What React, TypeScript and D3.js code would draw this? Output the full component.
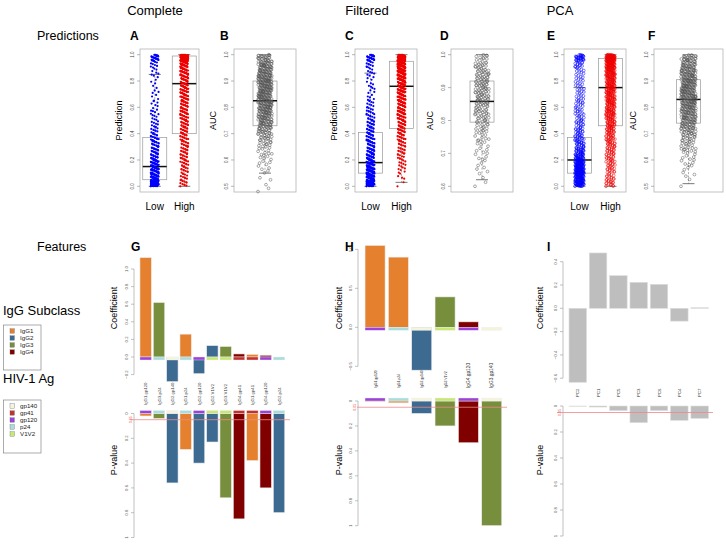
import React from 'react';
import * as d3 from 'd3';

const FONT = "'Liberation Sans', Arial, Helvetica, sans-serif";

// ---- Predictions (A, C, E): number of points in each 0.05 bin from 0 to 1 ----
const PRED_START = 0;
const PRED_STEP = 0.05;
const completeLow = [85, 45, 40, 35, 25, 20, 18, 14, 10, 8, 7, 6, 5, 4, 4, 3, 4, 5, 8, 30];
const completeHigh = [12, 10, 12, 14, 15, 15, 16, 16, 18, 20, 22, 22, 24, 25, 26, 28, 30, 32, 38, 90];
const filteredLow = [70, 55, 50, 40, 32, 26, 22, 20, 18, 15, 12, 10, 8, 6, 5, 5, 5, 6, 10, 30];
const filteredHigh = [2, 4, 6, 8, 10, 12, 14, 16, 20, 22, 25, 28, 30, 32, 36, 40, 45, 50, 55, 80];
const pcaLow = [55, 50, 55, 50, 35, 25, 20, 16, 14, 12, 10, 10, 9, 8, 8, 7, 8, 8, 12, 30];
const pcaHigh = [15, 12, 12, 14, 15, 16, 18, 20, 22, 25, 28, 30, 30, 32, 34, 36, 38, 42, 50, 80];

// box stats: lower whisker, Q1, median, Q3, upper whisker
const completeLowBox = [0, 0.05, 0.15, 0.37, 0.85];
const completeHighBox = [0, 0.4, 0.78, 0.99, 1];
const filteredLowBox = [0, 0.1, 0.18, 0.41, 0.86];
const filteredHighBox = [0.03, 0.44, 0.76, 0.95, 1];
const pcaLowBox = [0, 0.1, 0.2, 0.37, 0.75];
const pcaHighBox = [0, 0.46, 0.75, 0.97, 1];

// ---- AUC (B, D, F): number of points in each 0.02 bin ----
const AUC_STEP = 0.02;
const completeAucStart = 0.48;
const completeAuc = [2, 1, 2, 2, 3, 4, 5, 6, 8, 10, 14, 18, 22, 26, 28, 30, 32, 34, 34, 34, 34, 32, 30, 28, 24, 20];
const filteredAucStart = 0.6;
const filteredAuc = [2, 2, 3, 3, 4, 5, 6, 7, 9, 11, 13, 15, 17, 18, 18, 17, 16, 14, 12, 10];
const pcaAucStart = 0.5;
const pcaAuc = [1, 2, 2, 3, 4, 5, 7, 9, 11, 14, 18, 22, 26, 28, 30, 32, 34, 34, 34, 32, 30, 28, 26, 22, 20];
const completeAucBox = [0.55, 0.73, 0.825, 0.9, 1];
const filteredAucBox = [0.62, 0.795, 0.858, 0.92, 1];
const pcaAucBox = [0.51, 0.74, 0.83, 0.905, 1];

// ---- Features ----
const subclasses = ['IgG1', 'IgG2', 'IgG3', 'IgG4'];
const subclassColors = ['#e5812e', '#3d6a91', '#778f3d', '#800000'];
const antigens = ['gp140', 'gp41', 'gp120', 'p24', 'V1V2'];
const antigenColors = ['#f6f3dd', '#c4302b', '#9b42d8', '#a9dcdc', '#c7e874'];

const gLabels = ['IgG1.gp120', 'IgG3.p24', 'IgG2.gp140', 'IgG1.p24', 'IgG2.gp120', 'IgG2.V1V2',
  'IgG3.V1V2', 'IgG4.gp41', 'IgG1.gp41', 'IgG4.gp120', 'IgG2.p24'];
const gCoef = [1.13, 0.62, -0.28, 0.26, -0.19, 0.13, 0.12, 0.035, 0.03, 0.02, 0.0];
const gPval = [0.02, 0.04, 0.56, 0.29, 0.4, 0.23, 0.68, 0.85, 0.38, 0.6, 0.8];

const hLabels = ['IgG1.gp120', 'IgG1.p24', 'IgG2.gp140', 'IgG3.V1V2', 'IgG4.gp120', 'IgG3.gp140'];
const hCoef = [1.05, 0.9, -0.55, 0.39, 0.07, 0.0];
const hPval = [0.005, 0.015, 0.1, 0.2, 0.335, 1.0];

const iLabels = ['PC2', 'PC1', 'PC5', 'PC3', 'PC6', 'PC4', 'PC7'];
const iCoef = [-0.635, 0.475, 0.28, 0.223, 0.206, -0.11, 0.005];
const iPval = [0.002, 0.008, 0.035, 0.128, 0.035, 0.11, 0.095];

const gCoefTicks = [-0.2, 0, 0.2, 0.4, 0.6, 0.8, 1.0];
const hCoefTicks = [-0.5, 0, 0.5, 1.0];
const iCoefTicks = [-0.6, -0.4, -0.2, 0, 0.2, 0.4];
const pTicks = [0, 0.2, 0.4, 0.6, 0.8, 1];
const P_CUTOFF = 0.05;

const frac = (v) => v - Math.floor(v);

// place the binned points inside their bin, with a fixed spread sideways
const spreadBins = (counts, start, step) => {
  const pts = [];
  counts.forEach((c, i) => {
    for (let j = 0; j < c; j += 1) {
      pts.push({
        v: Math.min(1, start + step * (i + frac(j * 0.6180339 + i * 0.31))),
        k: frac(j * 0.7548777 + i * 0.5698403) - 0.5,
      });
    }
  });
  return pts;
};

const FRAME_TOP = 49;
const FRAME_BOTTOM = 192;

const StripPanel = ({ x0, x1, lo, ylabel, groups, spread, boxW, labels }) => {
  const y = d3.scaleLinear().domain([lo, 1]).range([186.3, 54.7]);
  const x = groups.length > 1
    ? d3.scaleLinear().domain([0.5, groups.length + 0.5]).range([x0, x1])
    : () => (x0 + x1) / 2;
  const fmt = d3.format('.1f');
  return (
    <g>
      <rect x={x0} y={FRAME_TOP} width={x1 - x0} height={FRAME_BOTTOM - FRAME_TOP} fill="none" stroke="#b5b5b5" strokeWidth={0.8} />
      {y.ticks(5).map((t) => (
        <g key={t}>
          <line x1={x0 - 3} x2={x0} y1={y(t)} y2={y(t)} stroke="#888" strokeWidth={0.6} />
          <text transform={`translate(${x0 - 6},${y(t)}) rotate(-90)`} textAnchor="middle" fontSize={4.5} fill="#444">{fmt(t)}</text>
        </g>
      ))}
      <text transform={`translate(${x0 - 18},${(FRAME_TOP + FRAME_BOTTOM) / 2}) rotate(-90)`} textAnchor="middle" fontSize={9}>{ylabel}</text>
      {groups.map((g, gi) => {
        const cx = x(gi + 1);
        const [wl, q1, med, q3, wh] = g.box;
        const pts = spreadBins(g.counts, g.start, g.step);
        return (
          <g key={gi}>
            <line x1={cx} x2={cx} y1={y(q3)} y2={y(wh)} stroke="#777" strokeWidth={0.6} strokeDasharray="2,1.5" />
            <line x1={cx} x2={cx} y1={y(q1)} y2={y(wl)} stroke="#777" strokeWidth={0.6} strokeDasharray="2,1.5" />
            <line x1={cx - 6} x2={cx + 6} y1={y(wh)} y2={y(wh)} stroke="#555" strokeWidth={0.8} />
            <line x1={cx - 6} x2={cx + 6} y1={y(wl)} y2={y(wl)} stroke="#555" strokeWidth={0.8} />
            <rect x={cx - boxW / 2} y={y(q3)} width={boxW} height={y(q1) - y(q3)} fill="none" stroke="#999" strokeWidth={0.7} />
            <line x1={cx - boxW / 2} x2={cx + boxW / 2} y1={y(med)} y2={y(med)} stroke="#111" strokeWidth={1.5} />
            {pts.map((p, i) => (g.open ? (
              <circle key={i} cx={cx + p.k * 2 * spread} cy={y(p.v)} r={1.4} fill="none" stroke={g.color} strokeWidth={0.5} />
            ) : (
              <circle key={i} cx={cx + p.k * 2 * spread} cy={y(p.v)} r={1.1} fill={g.color} />
            )))}
            {labels && (
              <text x={cx} y={210} textAnchor="middle" fontSize={10}>{labels[gi]}</text>
            )}
          </g>
        );
      })}
    </g>
  );
};

const colorOf = (label) => {
  const [sub, ag] = label.split('.');
  return [subclassColors[subclasses.indexOf(sub)], antigenColors[antigens.indexOf(ag)]];
};

const BarPanel = ({
  labels, coef, pval, x0, x1, axisX, coefZero, coefUnit, coefTicks, pZero, pUnit,
  labelBottom, labelSize, gray, lineX0, lineX1, titleX,
}) => {
  const x = d3.scaleBand().domain(labels).range([x0, x1]).paddingInner(0.14).paddingOuter(0.07);
  const yc = d3.scaleLinear().domain([0, 1]).range([coefZero, coefZero - coefUnit]);
  const yp = d3.scaleLinear().domain([0, 1]).range([pZero, pZero + pUnit]);
  const fmtC = d3.format('.1f');
  const fmtP = d3.format('~g');
  const bw = x.bandwidth();
  return (
    <g>
      <line x1={axisX} x2={axisX} y1={yc(coefTicks[0])} y2={yc(coefTicks[coefTicks.length - 1])} stroke="#999" strokeWidth={0.6} />
      {coefTicks.map((t) => (
        <g key={t}>
          <line x1={axisX - 3} x2={axisX} y1={yc(t)} y2={yc(t)} stroke="#999" strokeWidth={0.6} />
          <text transform={`translate(${axisX - 6},${yc(t)}) rotate(-90)`} textAnchor="middle" fontSize={4.3} fill="#555">{fmtC(t)}</text>
        </g>
      ))}
      <line x1={axisX} x2={axisX} y1={yp(0)} y2={yp(1)} stroke="#999" strokeWidth={0.6} />
      {pTicks.map((t) => (
        <g key={t}>
          <line x1={axisX - 3} x2={axisX} y1={yp(t)} y2={yp(t)} stroke="#999" strokeWidth={0.6} />
          <text transform={`translate(${axisX - 6},${yp(t)}) rotate(-90)`} textAnchor="middle" fontSize={4.3} fill="#555">{fmtP(t)}</text>
        </g>
      ))}
      <text transform={`translate(${titleX},308) rotate(-90)`} textAnchor="middle" fontSize={9}>Coefficient</text>
      <text transform={`translate(${titleX},460) rotate(-90)`} textAnchor="middle" fontSize={9}>P-value</text>
      {labels.map((l, i) => {
        const [main, strip] = gray ? ['#bebebe', null] : colorOf(l);
        const bx = x(l);
        const c = coef[i];
        const p = pval[i];
        const stroke = gray ? '#dcdcdc' : '#eeeeee';
        return (
          <g key={l}>
            <rect x={bx} y={Math.min(yc(0), yc(c))} width={bw} height={Math.abs(yc(c) - yc(0))} fill={main} stroke={stroke} strokeWidth={0.6} />
            {strip && <rect x={bx} y={yc(0)} width={bw} height={3} fill={strip} stroke={stroke} strokeWidth={0.4} />}
            <rect x={bx} y={yp(0)} width={bw} height={yp(p) - yp(0)} fill={main} stroke={stroke} strokeWidth={0.6} />
            {strip && <rect x={bx} y={yp(0) - 3} width={bw} height={3} fill={strip} stroke={stroke} strokeWidth={0.4} />}
            <text transform={`translate(${bx + bw / 2 + 1.5},${labelBottom}) rotate(-90)`} fontSize={Array.isArray(labelSize) ? labelSize[i] : labelSize} fill="#333">{l}</text>
          </g>
        );
      })}
      <line x1={lineX0} x2={lineX1} y1={yp(P_CUTOFF)} y2={yp(P_CUTOFF)} stroke="#e88" strokeWidth={0.8} />
      <text transform={`translate(${axisX - 2},${yp(P_CUTOFF)}) rotate(-90)`} textAnchor="middle" fontSize={3.5} fill="#e44">0.05</text>
    </g>
  );
};

const Legend = ({ title, titleY, boxY, boxH, names, colors }) => (
  <g>
    <text x={3} y={titleY} dominantBaseline="middle" fontSize={13}>{title}</text>
    <rect x={3.5} y={boxY} width={37.5} height={boxH} fill="none" stroke="#888" strokeWidth={0.7} />
    {names.map((n, i) => (
      <g key={n}>
        <rect x={10} y={boxY + 6 + i * 7 - 2.2} width={4.4} height={4.4} fill={colors[i]} stroke="#666" strokeWidth={0.35} />
        <text x={20} y={boxY + 6 + i * 7} dominantBaseline="middle" fontSize={6.2} fill="#222">{n}</text>
      </g>
    ))}
  </g>
);

export default function App() {
  return (
    <svg width={726} height={545} style={{ position: 'absolute', left: 0, top: 0, background: '#fff' }} fontFamily={FONT}>
      <rect width={726} height={545} fill="#fff" />
      <g fontSize={13} textAnchor="middle" dominantBaseline="middle">
        <text x={155} y={12}>Complete</text>
        <text x={367} y={12}>Filtered</text>
        <text x={560} y={12}>PCA</text>
      </g>
      <text x={37} y={37} fontSize={12.5} dominantBaseline="middle">Predictions</text>
      <text x={37} y={248} fontSize={12.5} dominantBaseline="middle">Features</text>
      <g fontSize={12} fontWeight="bold" dominantBaseline="middle">
        <text x={130} y={37}>A</text>
        <text x={220} y={37}>B</text>
        <text x={345} y={37}>C</text>
        <text x={440} y={37}>D</text>
        <text x={547} y={37}>E</text>
        <text x={648} y={37}>F</text>
        <text x={131} y={248}>G</text>
        <text x={345} y={248}>H</text>
        <text x={547} y={248}>I</text>
      </g>

      <StripPanel x0={140} x1={199} lo={0} ylabel="Prediction" spread={4} boxW={24} labels={['Low', 'High']}
        groups={[
          { counts: completeLow, start: PRED_START, step: PRED_STEP, box: completeLowBox, color: '#0000ff' },
          { counts: completeHigh, start: PRED_START, step: PRED_STEP, box: completeHighBox, color: '#ee0000' },
        ]} />
      <StripPanel x0={234} x1={296} lo={0.5} ylabel="AUC" spread={7} boxW={24}
        groups={[{ counts: completeAuc, start: completeAucStart, step: AUC_STEP, box: completeAucBox, color: '#555', open: true }]} />
      <StripPanel x0={355} x1={417} lo={0} ylabel="Prediction" spread={4} boxW={24} labels={['Low', 'High']}
        groups={[
          { counts: filteredLow, start: PRED_START, step: PRED_STEP, box: filteredLowBox, color: '#0000ff' },
          { counts: filteredHigh, start: PRED_START, step: PRED_STEP, box: filteredHighBox, color: '#ee0000' },
        ]} />
      <StripPanel x0={451} x1={513} lo={0.6} ylabel="AUC" spread={7} boxW={24}
        groups={[{ counts: filteredAuc, start: filteredAucStart, step: AUC_STEP, box: filteredAucBox, color: '#555', open: true }]} />
      <StripPanel x0={564} x1={626} lo={0} ylabel="Prediction" spread={4.5} boxW={24} labels={['Low', 'High']}
        groups={[
          { counts: pcaLow, start: PRED_START, step: PRED_STEP, box: pcaLowBox, color: '#0000ff', open: true },
          { counts: pcaHigh, start: PRED_START, step: PRED_STEP, box: pcaHighBox, color: '#ee0000', open: true },
        ]} />
      <StripPanel x0={654} x1={723} lo={0.5} ylabel="AUC" spread={7.5} boxW={24}
        groups={[{ counts: pcaAuc, start: pcaAucStart, step: AUC_STEP, box: pcaAucBox, color: '#555', open: true }]} />

      <BarPanel labels={gLabels} coef={gCoef} pval={gPval} x0={139} x1={285.7} axisX={134}
        coefZero={357} coefUnit={88} coefTicks={gCoefTicks} pZero={413.5} pUnit={124}
        labelBottom={405} labelSize={4.3} lineX0={130} lineX1={290} titleX={117} />
      <BarPanel labels={hLabels} coef={hCoef} pval={hPval} x0={363.4} x1={503.4} axisX={358}
        coefZero={327.3} coefUnit={78} coefTicks={hCoefTicks} pZero={401} pUnit={124.7}
        labelBottom={388} labelSize={[3.4, 3.4, 3.4, 3.4, 4.8, 4.8]} lineX0={357} lineX1={507} titleX={342} />
      <BarPanel labels={iLabels} coef={iCoef} pval={iPval} x0={567.6} x1={709.8} axisX={563}
        coefZero={308.3} coefUnit={116.5} coefTicks={iCoefTicks} pZero={406} pUnit={130}
        labelBottom={397} labelSize={4.3} gray lineX0={557} lineX1={713} titleX={543} />

      <Legend title="IgG Subclass" titleY={312} boxY={325} boxH={45} names={subclasses} colors={subclassColors} />
      <Legend title="HIV-1 Ag" titleY={380} boxY={400} boxH={53} names={antigens} colors={antigenColors} />
    </svg>
  );
}
